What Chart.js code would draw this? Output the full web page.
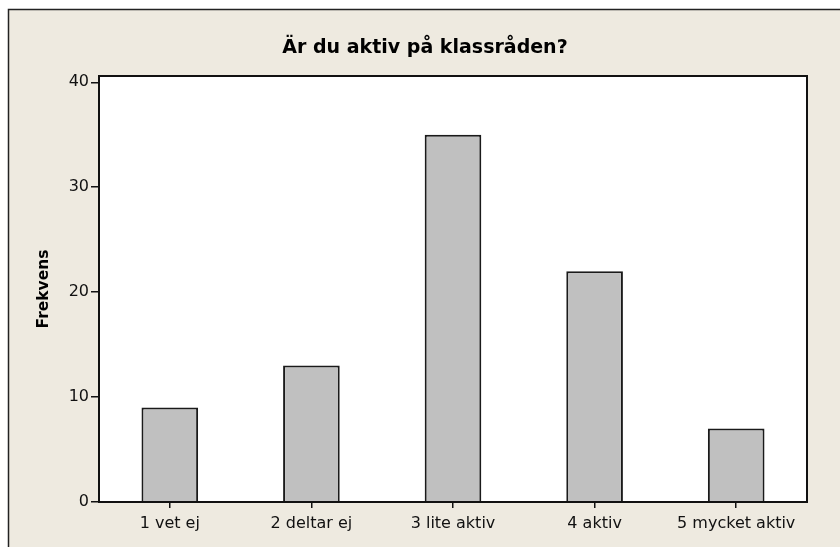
<!DOCTYPE html>
<html>
<head>
<meta charset="utf-8">
<script src="https://cdn.jsdelivr.net/npm/chart.js@4"></script>
<style>
  html, body { margin: 0; padding: 0; background: #fff; }
  #wrap { width: 840px; height: 547px; }
</style>
</head>
<body>
<div id="wrap"><canvas id="chart" width="840" height="547"></canvas></div>
<script>
const categories = ["1 vet ej", "2 deltar ej", "3 lite aktiv", "4 aktiv", "5 mycket aktiv"];
const frequencies = [9, 13, 35, 22, 7];
const yTicks = [0, 10, 20, 30, 40];
const chartTitle = "Är du aktiv på klassråden?";
const yTitle = "Frekvens";

const fontFamily = "'DejaVu Sans', Verdana, sans-serif";
const frameColor = "#EEEAE0";

// minitab style background, outer frame and the title
const minitabFrame = {
  id: "minitabFrame",
  beforeDraw(chart) {
    const { ctx, width, height, chartArea } = chart;
    ctx.save();
    ctx.fillStyle = "#fff";
    ctx.fillRect(0, 0, width, height);
    ctx.fillStyle = frameColor;
    ctx.fillRect(8, 9, width, height);
    ctx.strokeStyle = "#222";
    ctx.lineWidth = 1.5;
    ctx.beginPath();
    ctx.moveTo(8.5, height + 5);
    ctx.lineTo(8.5, 9.5);
    ctx.lineTo(width + 5, 9.5);
    ctx.stroke();
    ctx.fillStyle = "#fff";
    ctx.fillRect(chartArea.left, chartArea.top, chartArea.width, chartArea.height);
    ctx.restore();
  },
  afterDraw(chart) {
    const { ctx, chartArea } = chart;
    ctx.save();
    ctx.strokeStyle = "#111";
    ctx.lineWidth = 2;
    ctx.strokeRect(chartArea.left, chartArea.top, chartArea.width, chartArea.height);
    ctx.fillStyle = "#000";
    ctx.font = "bold 19px " + fontFamily;
    ctx.textAlign = "center";
    ctx.textBaseline = "middle";
    ctx.fillText(chartTitle, 425, 48);
    ctx.restore();
  }
};

new Chart(document.getElementById("chart"), {
  type: "bar",
  data: {
    labels: categories,
    datasets: [{
      data: frequencies,
      backgroundColor: "#C0C0C0",
      borderColor: "#1a1a1a",
      borderWidth: 2,
      categoryPercentage: 1,
      barPercentage: 0.4
    }]
  },
  options: {
    responsive: false,
    animation: false,
    layout: { padding: { left: 30, right: 33, top: 76, bottom: 0 } },
    plugins: {
      legend: { display: false },
      tooltip: { enabled: false }
    },
    scales: {
      x: {
        grid: { display: true, drawOnChartArea: false, offset: false, tickLength: 6, color: "#111", lineWidth: 1.5 },
        border: { display: false },
        ticks: { color: "#111", padding: 6, font: { family: fontFamily, size: 16 } },
        afterFit(scale) { scale.height = 45; }
      },
      y: {
        min: 0,
        max: 40.6,
        afterBuildTicks(scale) { scale.ticks = yTicks.map(v => ({ value: v })); },
        ticks: { color: "#111", padding: 2, font: { family: fontFamily, size: 16 } },
        grid: { display: true, drawOnChartArea: false, tickLength: 8, color: "#111", lineWidth: 1.5 },
        border: { display: false },
        title: {
          display: true,
          text: yTitle,
          color: "#000",
          padding: { top: 5, bottom: 0 },
          font: { family: fontFamily, size: 15.5, weight: "bold" }
        },
        afterFit(scale) { scale.width = 69; }
      }
    }
  },
  plugins: [minitabFrame]
});
</script>
</body>
</html>
